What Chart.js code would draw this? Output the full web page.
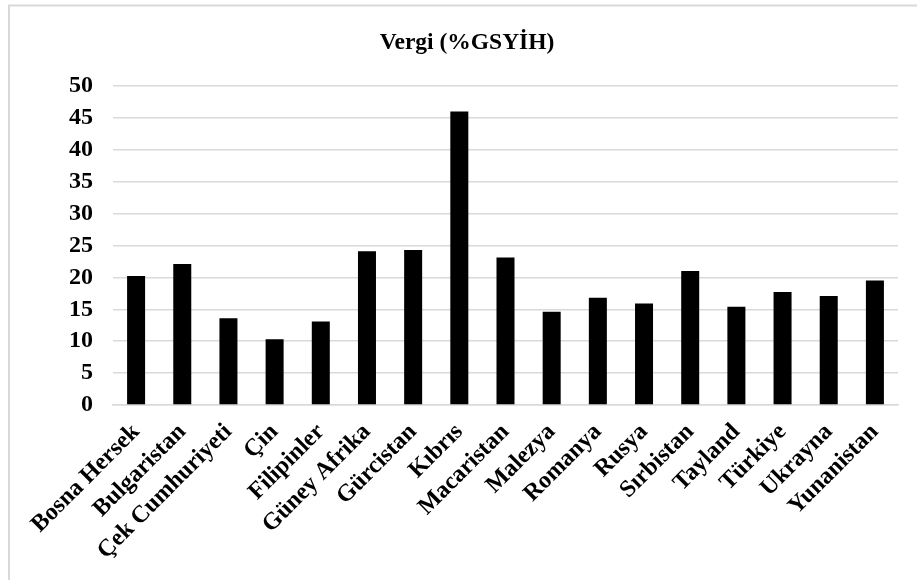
<!DOCTYPE html>
<html>
<head>
<meta charset="utf-8">
<script src="https://cdn.jsdelivr.net/npm/chart.js@4"></script>
<style>
html,body{margin:0;padding:0;background:#fff;}
#wrap{width:917px;height:580px;position:relative;}
</style>
</head>
<body>
<div id="wrap"><canvas id="c" width="917" height="580"></canvas></div>
<script>
const chartTitle = "Vergi (%GSYİH)";
const categories = ["Bosna Hersek","Bulgaristan","Çek Cumhuriyeti","Çin","Filipinler","Güney Afrika","Gürcistan","Kıbrıs","Macaristan","Malezya","Romanya","Rusya","Sırbistan","Tayland","Türkiye","Ukrayna","Yunanistan"];
const vergi = [20.2, 22.1, 13.6, 10.3, 13.1, 24.1, 24.3, 46.0, 23.1, 14.6, 16.8, 15.9, 21.0, 15.4, 17.7, 17.1, 19.5];
const yTicks = [0,5,10,15,20,25,30,35,40,45,50];

const FONT = "'Liberation Serif','Times New Roman',serif";

const framePlugin = {
  id: 'frame',
  beforeDraw(chart) {
    const ctx = chart.ctx;
    ctx.save();
    ctx.fillStyle = '#fff';
    ctx.fillRect(0, 0, chart.width, chart.height);
    ctx.strokeStyle = '#d9d9d9';
    ctx.lineWidth = 2;
    ctx.strokeRect(9, 5.5, 1000, 1000);
    ctx.restore();
  },
  afterDraw(chart) {
    const ctx = chart.ctx;
    ctx.save();
    ctx.fillStyle = '#000';
    ctx.font = "bold 23.5px " + FONT;
    ctx.textAlign = 'center';
    ctx.textBaseline = 'middle';
    ctx.fillText(chartTitle, 467, 43);
    ctx.restore();
  }
};

new Chart(document.getElementById('c'), {
  type: 'bar',
  data: {
    labels: categories,
    datasets: [{
      data: vergi,
      backgroundColor: '#000',
      borderWidth: 0,
      categoryPercentage: 1,
      barPercentage: 0.39
    }]
  },
  options: {
    responsive: false,
    animation: false,
    devicePixelRatio: 1,
    layout: { padding: { left: 0, right: 19, top: 86, bottom: 0 } },
    plugins: { legend: { display: false }, tooltip: { enabled: false }, title: { display: false } },
    scales: {
      x: {
        grid: { display: false, drawTicks: false },
        border: { display: true, color: '#d9d9d9', width: 1.5 },
        ticks: {
          color: '#000',
          font: { family: FONT, size: 24, weight: 'bold' },
          maxRotation: 45, minRotation: 45,
          autoSkip: false,
          padding: 13
        },
        afterFit(scale) { scale.height = 580 - 405; }
      },
      y: {
        min: 0, max: 50,
        afterBuildTicks(scale) { scale.ticks = yTicks.map(v => ({ value: v })); },
        grid: { color: '#d9d9d9', lineWidth: 1.5, drawTicks: false },
        border: { display: false },
        ticks: {
          color: '#000',
          font: { family: FONT, size: 24, weight: 'bold' },
          padding: 20
        },
        afterFit(scale) { scale.width = 113; }
      }
    }
  },
  plugins: [framePlugin]
});
</script>
</body>
</html>
